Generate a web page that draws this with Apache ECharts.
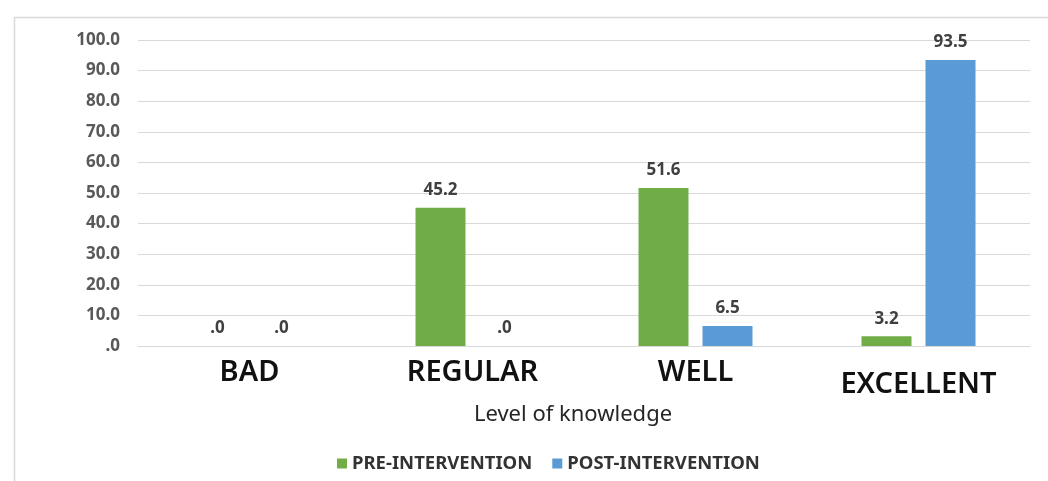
<!DOCTYPE html>
<html>
<head>
<meta charset="utf-8">
<script src="https://cdn.jsdelivr.net/npm/echarts@6/dist/echarts.min.js"></script>
<style>
  html, body { margin: 0; padding: 0; background: #fff; }
  #chart { width: 1048px; height: 481px; }
</style>
</head>
<body>
<div id="chart"></div>
<script>
// Knowledge level before and after the intervention (% of participants)
const categories = ['BAD', 'REGULAR', 'WELL', 'EXCELLENT'];
const preIntervention = [0, 45.2, 51.6, 3.2];
const postIntervention = [0, 0, 6.5, 93.5];
const seriesNames = ['PRE-INTERVENTION', 'POST-INTERVENTION'];
const axisTitle = 'Level of knowledge';

// Excel-style number format: 0 -> ".0", others with one decimal
function fmt(v) {
  const s = Number(v).toFixed(1);
  return s.startsWith('0') ? s.slice(1) : s;
}

const FONT = '"Noto Sans", "Open Sans", sans-serif';

const chart = echarts.init(document.getElementById('chart'), null, { renderer: 'canvas' });

const labelStyle = {
  show: true,
  position: 'top',
  distance: 9,
  formatter: p => fmt(p.value),
  color: '#404040',
  fontFamily: FONT,
  fontWeight: 'bold',
  fontSize: 17
};

chart.setOption({
  animation: false,
  backgroundColor: '#fff',
  graphic: [{
    type: 'rect',
    left: 12, top: 15,
    shape: { width: 1100, height: 520 },
    style: { fill: 'none', stroke: '#d9d9d9', lineWidth: 1.5 },
    silent: true, z: -1
  }],
  grid: { left: 138, right: 18, top: 40, bottom: 135 },
  legend: {
    top: 449,
    left: 332,
    itemWidth: 10, itemHeight: 10,
    itemGap: 20,
    icon: 'rect',
    textStyle: { color: '#333', fontFamily: FONT, fontWeight: 'bold', fontSize: 18.5 },
    data: seriesNames
  },
  xAxis: {
    type: 'category',
    data: categories,
    name: axisTitle,
    nameLocation: 'middle',
    nameGap: 48,
    nameTextStyle: { color: '#262626', fontFamily: FONT, fontSize: 22, padding: [0, 22, 0, 0] },
    axisLine: { lineStyle: { color: '#d9d9d9' } },
    axisTick: { show: false },
    axisLabel: {
      interval: 0,
      hideOverlap: false,
      margin: 12,
      color: '#111',
      fontFamily: FONT,
      fontWeight: 600,
      fontSize: 29,
      formatter: v => v === 'EXCELLENT' ? '{big|' + v + '}' : v,
      rich: {
        big: { fontFamily: FONT, fontWeight: 600, fontSize: 29, color: '#111', padding: [12, 0, 0, 0] }
      }
    }
  },
  yAxis: {
    type: 'value',
    min: 0, max: 100, interval: 10,
    axisLine: { show: false },
    axisTick: { show: false },
    splitLine: { lineStyle: { color: '#d9d9d9', width: 1 } },
    axisLabel: {
      margin: 18,
      color: '#595959',
      fontFamily: FONT,
      fontWeight: 'bold',
      fontSize: 17,
      formatter: v => fmt(v)
    }
  },
  series: [
    {
      name: seriesNames[0],
      type: 'bar',
      data: preIntervention,
      barWidth: 50,
      barGap: '28%',
      itemStyle: { color: '#70AD47' },
      label: labelStyle
    },
    {
      name: seriesNames[1],
      type: 'bar',
      data: postIntervention,
      barWidth: 50,
      itemStyle: { color: '#5B9BD5' },
      label: labelStyle
    }
  ]
});
</script>
</body>
</html>
